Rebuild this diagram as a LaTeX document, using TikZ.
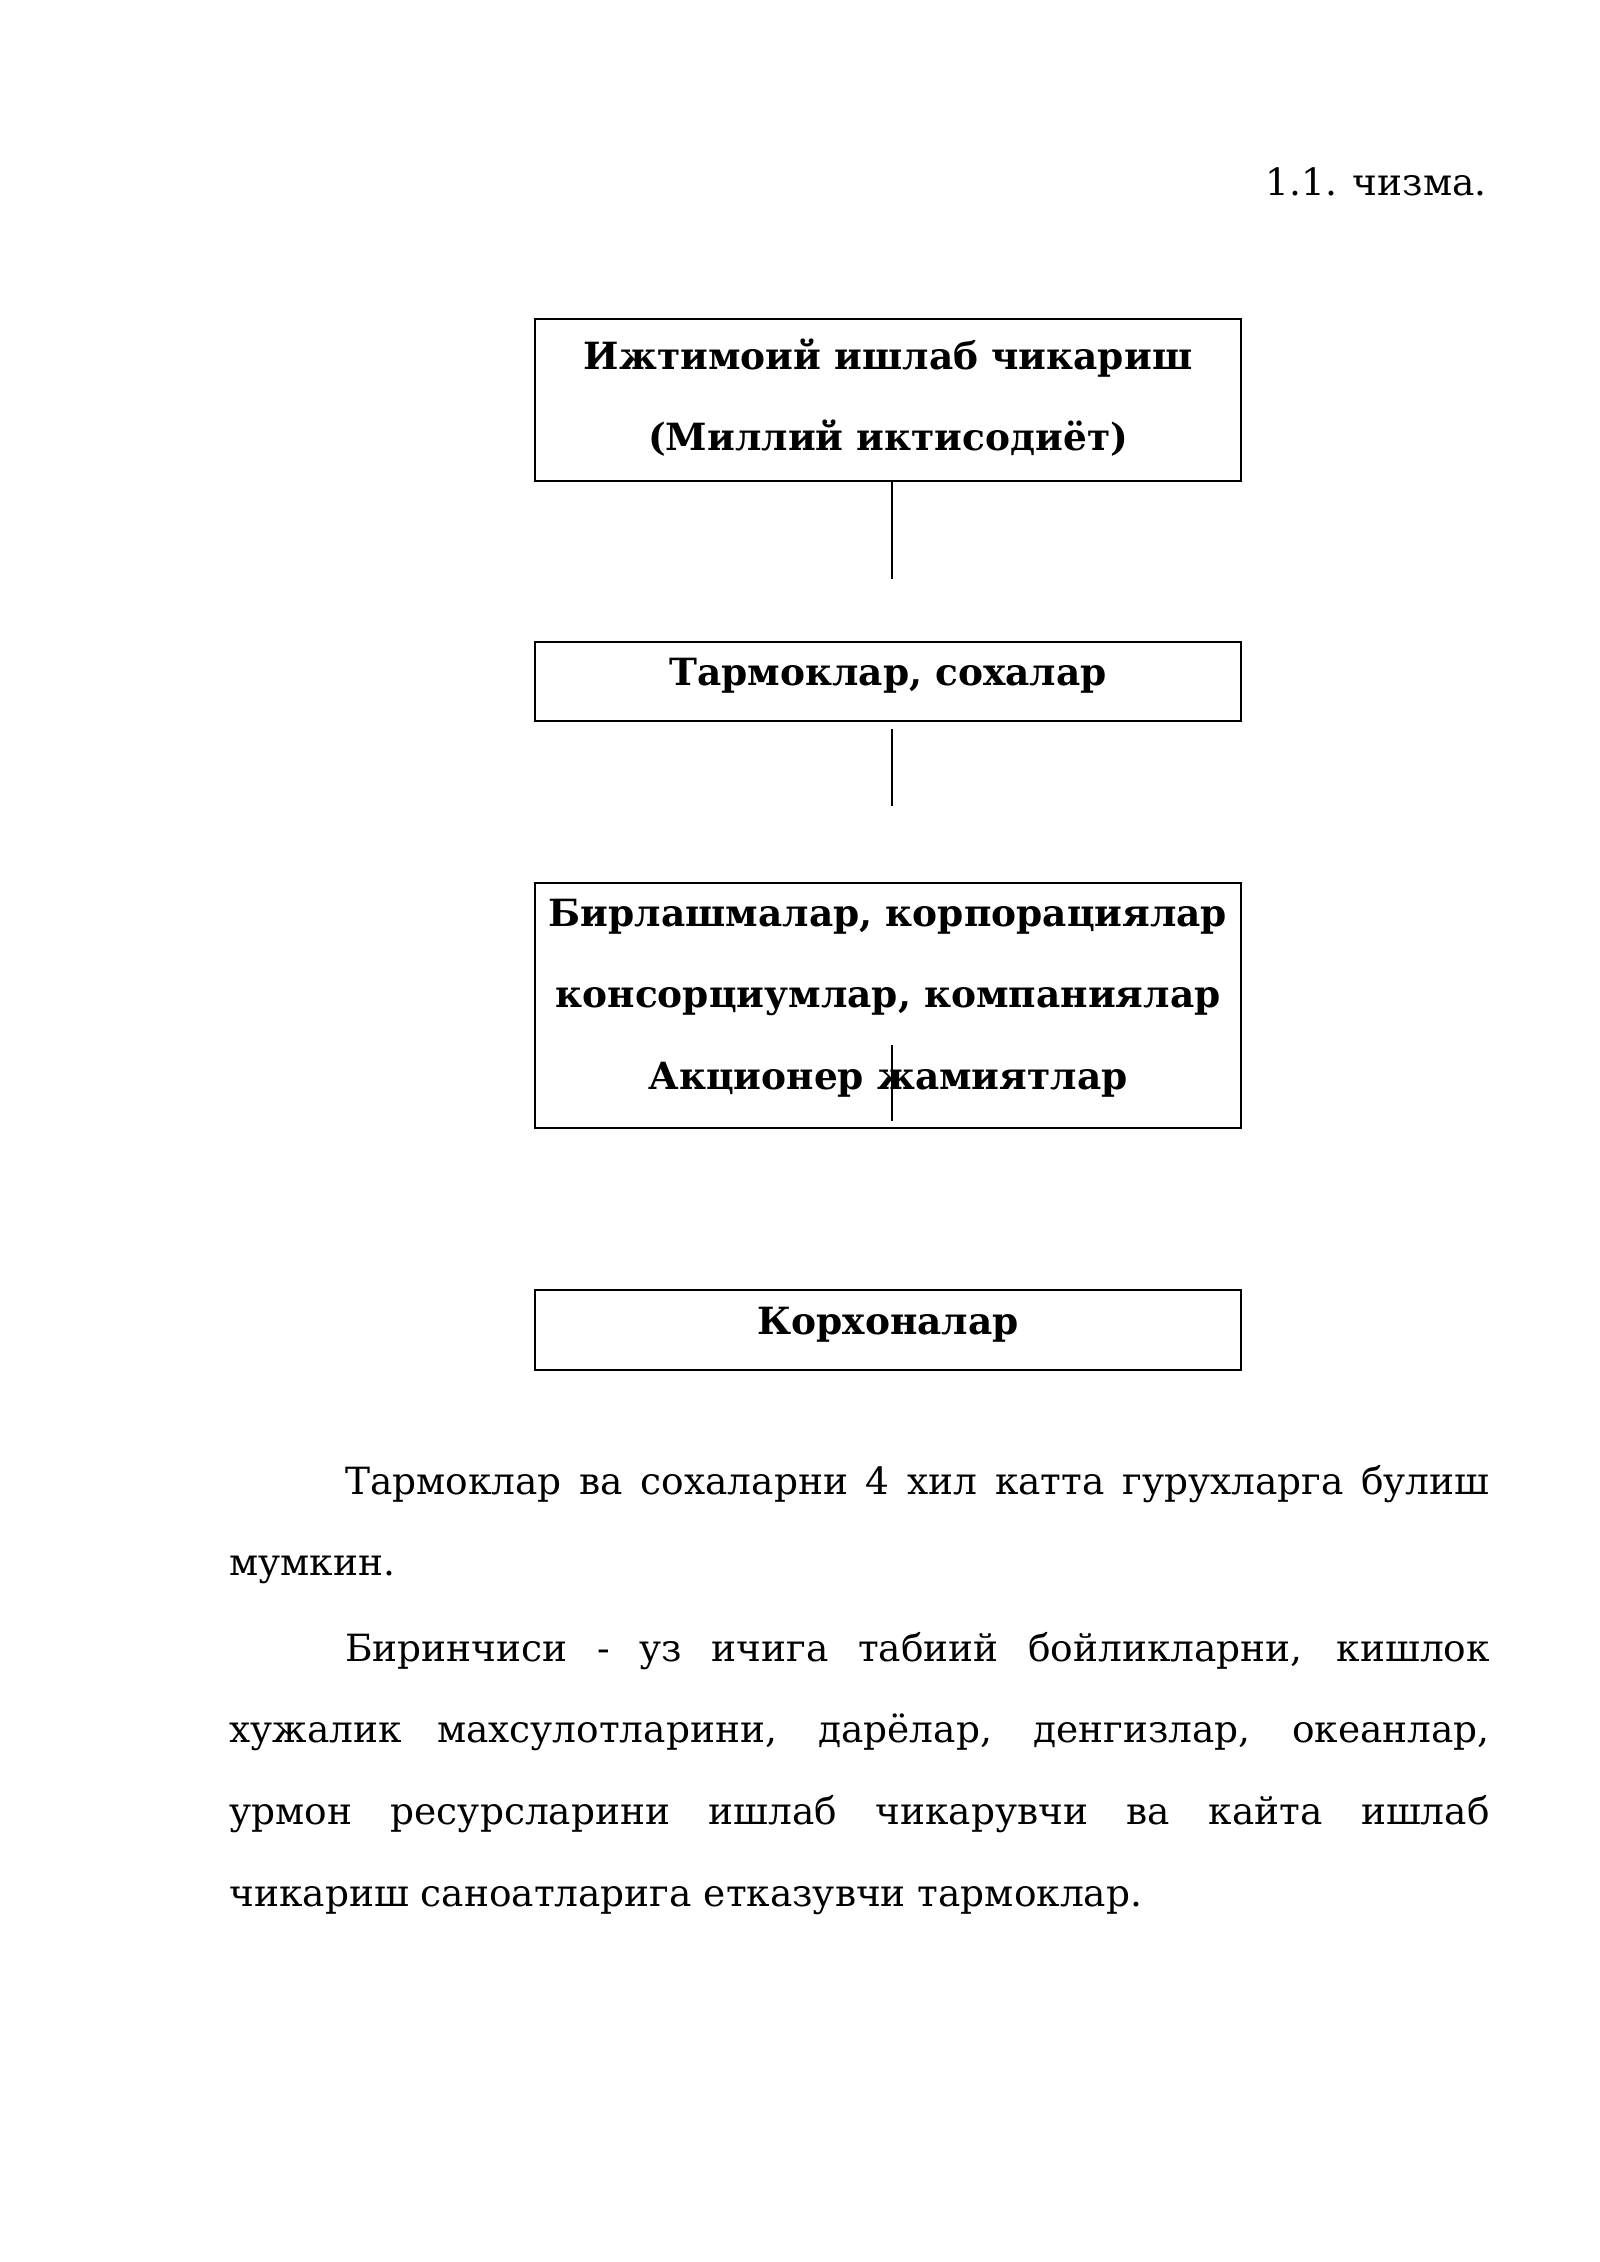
\documentclass[tikz,border=0pt]{standalone}
\usepackage{fontspec}
\setmainfont{DejaVu Serif}
\usetikzlibrary{positioning}
\hyphenpenalty=10000
\exhyphenpenalty=10000

% box content: height, first baseline, lines
\newcommand{\boxcell}[3]{\parbox[c][#1][t]{92.66mm}{\centering\rule{0pt}{#2}#3}}

\begin{document}
\begin{tikzpicture}[x=0.13125mm, y=-0.13125mm,
  every node/.style={font=\fontsize{14pt}{30.6pt}\selectfont},
  unit/.style={draw, line width=0.8pt, inner sep=0pt, anchor=north west,
    font=\fontsize{14pt}{30.6pt}\selectfont\bfseries},
  link/.style={line width=0.6pt}]

  \useasboundingbox (0,0) rectangle (1600,2262);

  % Caption
  \node[anchor=base east, inner sep=0pt] (cap) at (1487,195) {1.1. чизма.};

  % Levels
  \node[unit] (prod) at (534,318) {\boxcell{21.26mm}{6.56mm}{Ижтимоий ишлаб чикариш\\(Миллий иктисодиёт)}};
  \node[unit] (branch) at (534,641) {\boxcell{10.37mm}{5.64mm}{Тармоклар, сохалар}};
  \node[unit] (assoc) at (534,882) {\boxcell{32.16mm}{5.64mm}{Бирлашмалар, корпорациялар\\консорциумлар, компаниялар\\Акционер жамиятлар}};
  \node[unit] (firm) at (534,1289) {\boxcell{10.5mm}{5.78mm}{Корхоналар}};

  % Links
  \draw[link] ([xshift=0.5mm]prod.south) -- ++(0,97);
  \draw[link] ([xshift=0.5mm, yshift=-0.92mm]branch.south) -- ++(0,77);
  \draw[link] ([xshift=0.5mm, yshift=1.05mm]assoc.south) -- ++(0,-76);

  % Text
  \node[anchor=base west, inner sep=0pt, text width=165.4mm, align=justify] (par1) at (229,1494)
    {\hspace*{15.2mm}Тармоклар ва сохаларни 4 хил катта гурухларга булиш\linebreak мумкин.};
  \node[anchor=base west, inner sep=0pt, text width=165.4mm, align=justify] (par2) at (229,1661)
    {\hspace*{15.2mm}Биринчиси - уз ичига табиий бойликларни, кишлок\linebreak хужалик махсулотларини, дарёлар, денгизлар, океанлар,\linebreak урмон ресурсларини ишлаб чикарувчи ва кайта ишлаб\linebreak чикариш саноатларига етказувчи тармоклар.};

\end{tikzpicture}
\end{document}
